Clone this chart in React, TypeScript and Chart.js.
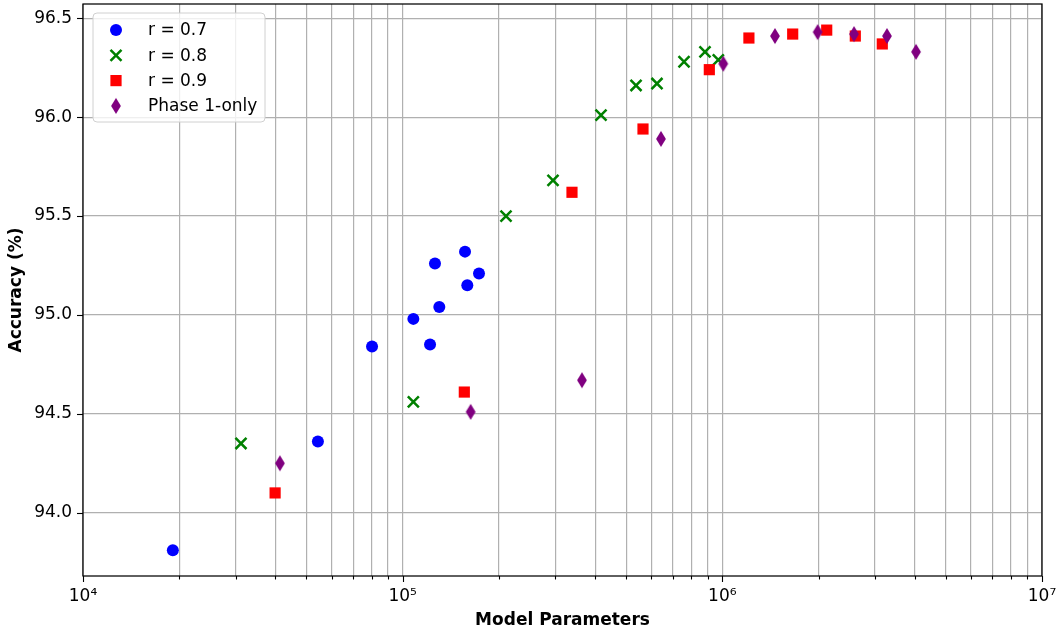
import React, { useEffect, useRef } from 'react';
import { Chart, registerables } from 'chart.js';

Chart.register(...registerables);

// ---- Data ----
const seriesLabels = ['r = 0.7', 'r = 0.8', 'r = 0.9', 'Phase 1-only'];

const r07Params = [19100, 54300, 80200, 108000, 121800, 126200, 130200, 156700, 159300, 173300];
const r07Acc = [93.81, 94.36, 94.84, 94.98, 94.85, 95.26, 95.04, 95.32, 95.15, 95.21];

const r08Params = [31200, 108000, 210500, 295300, 417300, 537000, 624500, 758900, 882500, 971400];
const r08Acc = [94.35, 94.56, 95.5, 95.68, 96.01, 96.16, 96.17, 96.28, 96.33, 96.29];

const r09Params = [39900, 155900, 338600, 564700, 910500, 1211000, 1660000, 2121000, 2606000, 3165000];
const r09Acc = [94.1, 94.61, 95.62, 95.94, 96.24, 96.4, 96.42, 96.44, 96.41, 96.37];

const phase1Params = [41300, 163200, 363900, 642800, 1007000, 1461000, 1987000, 2582000, 3274000, 4035000];
const phase1Acc = [94.25, 94.51, 94.67, 95.89, 96.27, 96.41, 96.43, 96.42, 96.41, 96.33];

const xTickValues = [
  1e4, 2e4, 3e4, 4e4, 5e4, 6e4, 7e4, 8e4, 9e4,
  1e5, 2e5, 3e5, 4e5, 5e5, 6e5, 7e5, 8e5, 9e5,
  1e6, 2e6, 3e6, 4e6, 5e6, 6e6, 7e6, 8e6, 9e6,
  1e7,
];
const xMajorLabels: Record<string, string> = {
  '10000': '10⁴',
  '100000': '10⁵',
  '1000000': '10⁶',
  '10000000': '10⁷',
};
const yTickValues = [94.0, 94.5, 95.0, 95.5, 96.0, 96.5];

const X_MIN = 1e4;
const X_MAX = 1e7;
const Y_MIN = 93.68;
const Y_MAX = 96.572;

const COLORS = ['#0000ff', '#008000', '#ff0000', '#800080'];
const FONT = 'DejaVu Sans';
const FS = 17;

function toPoints(xs: number[], ys: number[]) {
  return xs.map((x, i) => ({ x, y: ys[i] }));
}

function makeDiamond(color: string): HTMLCanvasElement {
  const c = document.createElement('canvas');
  c.width = 12;
  c.height = 18;
  const ctx = c.getContext('2d')!;
  ctx.fillStyle = color;
  ctx.beginPath();
  ctx.moveTo(6, 1);
  ctx.lineTo(10.9, 9);
  ctx.lineTo(6, 17);
  ctx.lineTo(1.1, 9);
  ctx.closePath();
  ctx.fill();
  return c;
}

function isMajor(v: number) {
  const l = Math.log10(v);
  return Math.abs(l - Math.round(l)) < 1e-9;
}

function zeroPadding(scale: any) {
  scale.paddingTop = 0;
  scale.paddingBottom = 0;
  scale.paddingLeft = 0;
  scale.paddingRight = 0;
}

export default function App() {
  const ref = useRef<HTMLCanvasElement | null>(null);

  useEffect(() => {
    document.body.style.margin = '0';
    const canvas = ref.current!;
    const diamond = makeDiamond(COLORS[3]);

    const framePlugin = {
      id: 'frameTicksLegend',
      afterDraw(chart: any) {
        const { ctx, chartArea } = chart;
        const xs = chart.scales.x;
        const ys = chart.scales.y;
        ctx.save();
        // tick marks
        ctx.strokeStyle = '#000';
        ctx.lineWidth = 1.1;
        for (const v of xTickValues) {
          const px = Math.round(xs.getPixelForValue(v)) + 0.5;
          const len = isMajor(v) ? 6 : 3.5;
          ctx.beginPath();
          ctx.moveTo(px, chartArea.bottom);
          ctx.lineTo(px, chartArea.bottom + len);
          ctx.stroke();
        }
        for (const v of yTickValues) {
          const py = Math.round(ys.getPixelForValue(v)) + 0.5;
          ctx.beginPath();
          ctx.moveTo(chartArea.left - 6, py);
          ctx.lineTo(chartArea.left, py);
          ctx.stroke();
        }
        // frame
        ctx.strokeStyle = '#000';
        ctx.lineWidth = 1.25;
        ctx.strokeRect(chartArea.left, chartArea.top, chartArea.right - chartArea.left, chartArea.bottom - chartArea.top);

        // legend
        const bx = 93, by = 13, bw = 172, bh = 109, r = 4;
        ctx.beginPath();
        ctx.moveTo(bx + r, by);
        ctx.lineTo(bx + bw - r, by);
        ctx.arcTo(bx + bw, by, bx + bw, by + r, r);
        ctx.lineTo(bx + bw, by + bh - r);
        ctx.arcTo(bx + bw, by + bh, bx + bw - r, by + bh, r);
        ctx.lineTo(bx + r, by + bh);
        ctx.arcTo(bx, by + bh, bx, by + bh - r, r);
        ctx.lineTo(bx, by + r);
        ctx.arcTo(bx, by, bx + r, by, r);
        ctx.closePath();
        ctx.fillStyle = 'rgba(255,255,255,0.8)';
        ctx.fill();
        ctx.strokeStyle = '#d0d0d0';
        ctx.lineWidth = 1;
        ctx.stroke();

        const mx = 116;
        const tx = 148;
        ctx.font = `${FS}px ${FONT}`;
        ctx.textBaseline = 'middle';
        ctx.textAlign = 'left';
        seriesLabels.forEach((label, i) => {
          const cy = 30 + i * 25.3;
          if (i === 0) {
            ctx.fillStyle = COLORS[0];
            ctx.beginPath();
            ctx.arc(mx, cy, 6, 0, Math.PI * 2);
            ctx.fill();
          } else if (i === 1) {
            ctx.strokeStyle = COLORS[1];
            ctx.lineWidth = 2.5;
            const o = 5.5;
            ctx.beginPath();
            ctx.moveTo(mx - o, cy - o);
            ctx.lineTo(mx + o, cy + o);
            ctx.moveTo(mx - o, cy + o);
            ctx.lineTo(mx + o, cy - o);
            ctx.stroke();
          } else if (i === 2) {
            ctx.fillStyle = COLORS[2];
            ctx.fillRect(mx - 5.6, cy - 5.6, 11.2, 11.2);
          } else {
            ctx.drawImage(diamond, mx - 6, cy - 9);
          }
          ctx.fillStyle = '#000';
          ctx.fillText(label, tx, cy + 1);
        });
        ctx.restore();
      },
    };

    const chart = new Chart(canvas, {
      type: 'scatter',
      data: {
        datasets: [
          {
            label: seriesLabels[0],
            data: toPoints(r07Params, r07Acc),
            pointStyle: 'circle',
            pointRadius: 6,
            backgroundColor: COLORS[0],
            borderColor: COLORS[0],
            borderWidth: 0,
            order: 4,
          },
          {
            label: seriesLabels[1],
            data: toPoints(r08Params, r08Acc),
            pointStyle: 'crossRot',
            pointRadius: 7.8,
            backgroundColor: COLORS[1],
            borderColor: COLORS[1],
            borderWidth: 2.5,
            order: 3,
          },
          {
            label: seriesLabels[2],
            data: toPoints(r09Params, r09Acc),
            pointStyle: 'rect',
            pointRadius: 7.9,
            backgroundColor: COLORS[2],
            borderColor: COLORS[2],
            borderWidth: 0,
            order: 2,
          },
          {
            label: seriesLabels[3],
            data: toPoints(phase1Params, phase1Acc),
            pointStyle: diamond as any,
            pointRadius: 8,
            backgroundColor: COLORS[3],
            borderColor: COLORS[3],
            borderWidth: 0,
            order: 1,
          },
        ],
      },
      options: {
        responsive: false,
        animation: false,
        devicePixelRatio: 1,
        layout: { autoPadding: false, padding: { left: 0, right: 16, top: 4, bottom: 0 } },
        plugins: {
          legend: { display: false },
          tooltip: { enabled: false },
        },
        scales: {
          x: {
            type: 'logarithmic',
            min: X_MIN,
            max: X_MAX,
            afterBuildTicks: (scale: any) => {
              scale.ticks = xTickValues.map((v) => ({ value: v, major: isMajor(v) }));
            },
            afterFit: (scale: any) => {
              scale.height = 56;
              zeroPadding(scale);
            },
            border: { display: false },
            grid: {
              color: '#b0b0b0',
              lineWidth: 1.2,
              drawTicks: false,
            },
            ticks: {
              autoSkip: false,
              maxRotation: 0,
              minRotation: 0,
              padding: 10,
              color: '#000',
              font: { family: FONT, size: FS },
              callback: (v: any) => xMajorLabels[String(Math.round(Number(v)))] ?? '',
            },
            title: {
              display: true,
              text: 'Model Parameters',
              color: '#000',
              font: { family: FONT, size: FS, weight: 'bold' },
              padding: { top: 0, bottom: 1 },
            },
          },
          y: {
            type: 'linear',
            min: Y_MIN,
            max: Y_MAX,
            afterBuildTicks: (scale: any) => {
              scale.ticks = yTickValues.map((v) => ({ value: v }));
            },
            afterFit: (scale: any) => {
              scale.width = 83;
              zeroPadding(scale);
            },
            border: { display: false },
            grid: {
              color: '#b0b0b0',
              lineWidth: 1.2,
              drawTicks: false,
            },
            ticks: {
              autoSkip: false,
              padding: 11,
              color: '#000',
              font: { family: FONT, size: FS },
              callback: (v: any) => Number(v).toFixed(1),
            },
            title: {
              display: true,
              text: 'Accuracy (%)',
              color: '#000',
              font: { family: FONT, size: FS, weight: 'bold' },
              padding: { top: 6, bottom: 0 },
            },
          },
        },
      },
      plugins: [framePlugin],
    } as any);

    return () => chart.destroy();
  }, []);

  return (
    <canvas
      ref={ref}
      width={1058}
      height={632}
      style={{ display: 'block', width: '1058px', height: '632px' }}
    />
  );
}
